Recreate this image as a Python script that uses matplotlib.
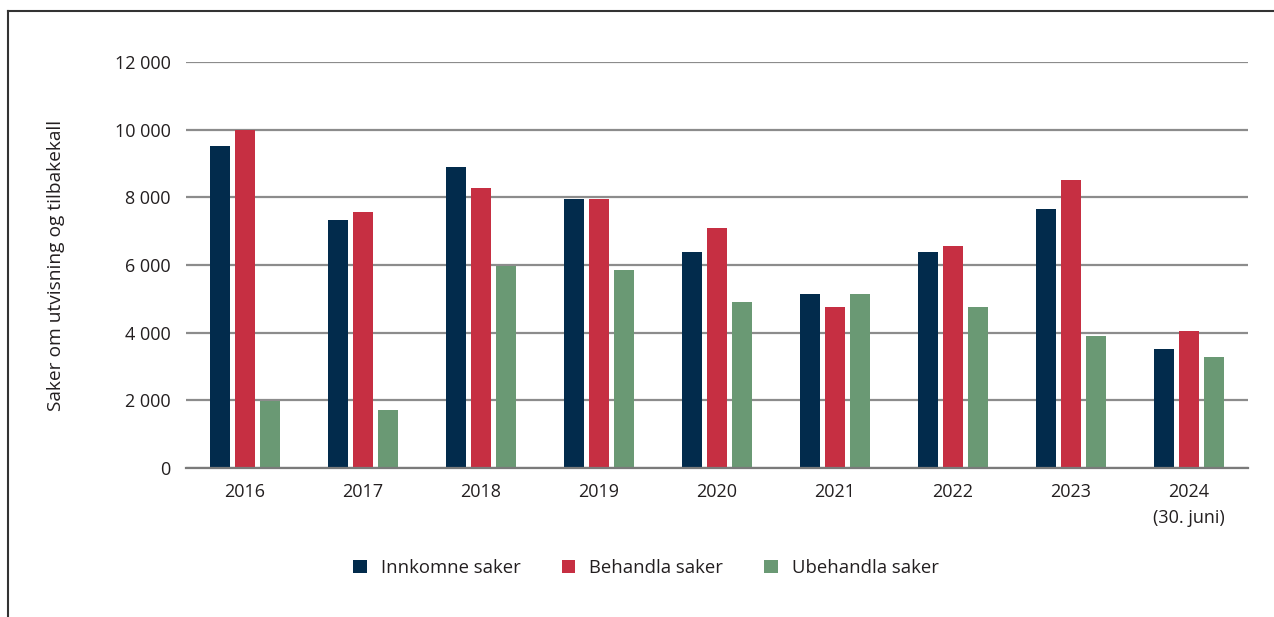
import numpy as np
import matplotlib.pyplot as plt
from matplotlib.lines import Line2D
from matplotlib.ticker import FuncFormatter

plt.rcParams['font.family'] = ['Open Sans', 'DejaVu Sans']

years = ['2016', '2017', '2018', '2019', '2020', '2021', '2022', '2023', '2024\n(30. juni)']
innkomne = [9520, 7330, 8900, 7950, 6390, 5140, 6390, 7660, 3520]
behandla = [10000, 7570, 8280, 7950, 7090, 4760, 6560, 8510, 4050]
ubehandla = [1970, 1720, 5960, 5850, 4910, 5140, 4760, 3900, 3280]

series = [('Innkomne saker', innkomne, '#022b4c'),
          ('Behandla saker', behandla, '#c62f42'),
          ('Ubehandla saker', ubehandla, '#6a9974')]

fig = plt.figure(figsize=(12.74, 6.17), dpi=100)
ax = fig.add_axes([186/1274, 1-468/617, (1248-186)/1274, (468-62)/617])

x = np.arange(len(years))
offsets = [-0.215, 0.0, 0.215]
w = 0.17
for (name, vals, col), off in zip(series, offsets):
    ax.bar(x + off, vals, width=w, color=col, label=name, zorder=3)

ax.set_xlim(-0.5, len(years) - 0.5)
ax.set_ylim(0, 12000)
ax.set_yticks(range(0, 12001, 2000))
ax.yaxis.set_major_formatter(FuncFormatter(lambda v, p: f'{int(v):,}'.replace(',', ' ')))
ax.set_xticks(x)
ax.set_xticklabels(years, linespacing=1.55)
ax.tick_params(length=0, labelsize=13, colors='#231f20')
ax.tick_params(axis='y', pad=11)
ax.tick_params(axis='x', pad=11)
ax.grid(axis='y', color='#8c8c8c', linewidth=1.6, zorder=0)
for s in ['top', 'right', 'left']:
    ax.spines[s].set_visible(False)
ax.spines['bottom'].set_color('#7a7a7a')
ax.spines['bottom'].set_linewidth(1.6)
ax.spines['bottom'].set_zorder(4)

ax.set_ylabel('Saker om utvisning og tilbakekall', fontsize=13.8, color='#231f20', labelpad=36)

fig.legend(loc='center', bbox_to_anchor=(0.507, 1-568/617), ncol=3, frameon=False,
           fontsize=13.3, handlelength=0.72, handleheight=0.72, handletextpad=0.75,
           columnspacing=2.25, labelcolor='#231f20')

# frame lines at top and left
fig.add_artist(Line2D([8/1274, 1], [1-11/617, 1-11/617], color='#333333', lw=1.5))
fig.add_artist(Line2D([8/1274, 8/1274], [0, 1-11/617], color='#333333', lw=1.5))

fig.savefig('out.png', dpi=100)
